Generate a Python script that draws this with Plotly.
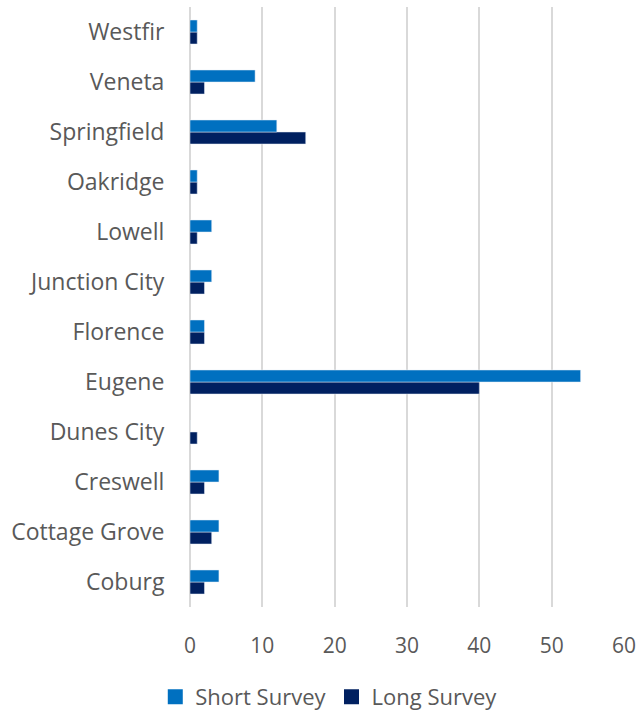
import plotly.graph_objects as go

categories = ["Coburg", "Cottage Grove", "Creswell", "Dunes City", "Eugene", "Florence",
              "Junction City", "Lowell", "Oakridge", "Springfield", "Veneta", "Westfir"]
short_survey = [4, 4, 4, 0, 54, 2, 3, 3, 1, 12, 9, 1]
long_survey = [2, 3, 2, 1, 40, 2, 2, 1, 1, 16, 2, 1]
x_ticks = [0, 10, 20, 30, 40, 50, 60]
series_names = ["Short Survey", "Long Survey"]
series_colors = ["#0070C0", "#002060"]

fig = go.Figure()
fig.add_trace(go.Bar(y=categories, x=long_survey, name=series_names[1], orientation="h",
                     marker=dict(color=series_colors[1]), showlegend=False))
fig.add_trace(go.Bar(y=categories, x=short_survey, name=series_names[0], orientation="h",
                     marker=dict(color=series_colors[0]), showlegend=False))
# legend entries with larger square swatches
for i, (nm, col) in enumerate(zip(series_names, series_colors)):
    fig.add_trace(go.Scatter(x=[None], y=[None], mode="markers", name=nm,
                             marker=dict(symbol="square", size=15, color=col),
                             legendrank=i + 1, showlegend=True))

fig.update_layout(
    width=641, height=715,
    barmode="group", bargap=0.52, bargroupgap=0,
    plot_bgcolor="white", paper_bgcolor="white",
    margin=dict(l=190, r=17, t=7, b=108, autoexpand=False),
    font=dict(family="Open Sans", color="#595959", size=22),
    legend=dict(orientation="h", x=-0.08, xanchor="left", y=-0.115, yanchor="top",
                font=dict(size=22), itemwidth=30),
    showlegend=True,
)
fig.update_xaxes(range=[0, 60], tickvals=x_ticks, showgrid=True, gridcolor="#D9D9D9", gridwidth=2,
                 zeroline=True, zerolinecolor="#D9D9D9", zerolinewidth=2,
                 tickfont=dict(size=21), ticks="outside", ticklen=20, tickcolor="rgba(0,0,0,0)",
                 showline=False, automargin=False)
fig.update_yaxes(categoryorder="array", categoryarray=categories, showgrid=False,
                 tickfont=dict(size=23), ticks="outside", ticklen=20, tickcolor="rgba(0,0,0,0)",
                 showline=False, automargin=False)

fig.write_html("out.html", config={"displayModeBar": False},
               post_script="document.body.style.margin='0';")
